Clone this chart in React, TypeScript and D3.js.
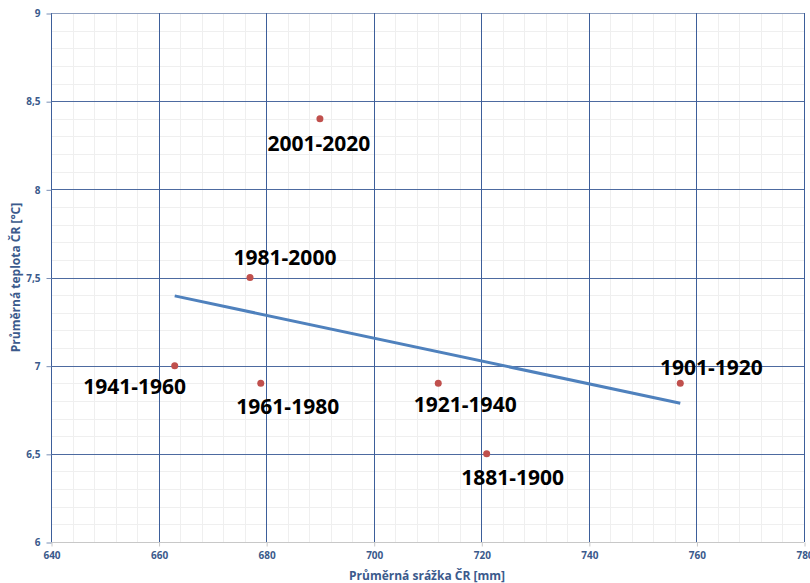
import * as d3 from 'd3';
import { useEffect, useRef } from 'react';

// periods, precipitation [mm], temperature [°C]
const periods = ['1881-1900', '1901-1920', '1921-1940', '1941-1960', '1961-1980', '1981-2000', '2001-2020'];
const srazka = [721, 757, 712, 663, 679, 677, 690];
const teplota = [6.5, 6.9, 6.9, 7.0, 6.9, 7.5, 8.4];

const xTicks = [640, 660, 680, 700, 720, 740, 760, 780];
const yTicks = [6, 6.5, 7, 7.5, 8, 8.5, 9];

// label placement relative to the point (px)
const labelDx = [26, 31, 27, -40, 27, 35, -1];
const labelDy = [31, -8, 29, 28, 31, -13, 32];

export default function App() {
    const ref = useRef<HTMLDivElement>(null);

    useEffect(() => {
        const width = 810;
        const height = 583;
        const margin = { top: 13, right: 6, bottom: 41, left: 51 };
        const axisColor = '#3b5a8c';

        const svg = d3.create('svg')
            .attr('width', width)
            .attr('height', height)
            .style('display', 'block')
            .style('background', '#fff');

        const x = d3.scaleLinear().domain([640, 780]).range([margin.left, width - margin.right]);
        const y = d3.scaleLinear().domain([6, 9]).range([height - margin.bottom, margin.top]);

        // minor grid
        const minorX = d3.range(640, 781, 4).filter(v => v % 20 !== 0);
        const minorY = d3.range(60, 91, 1).map(v => v / 10).filter(v => Math.round(v * 10) % 5 !== 0);
        svg.append('g')
            .selectAll('line')
            .data(minorX)
            .join('line')
            .attr('x1', d => Math.round(x(d)) + 0.5).attr('x2', d => Math.round(x(d)) + 0.5)
            .attr('y1', y(6)).attr('y2', y(9))
            .attr('stroke', '#efefef');
        svg.append('g')
            .selectAll('line')
            .data(minorY)
            .join('line')
            .attr('x1', x(640)).attr('x2', x(780))
            .attr('y1', d => Math.round(y(d)) + 0.5).attr('y2', d => Math.round(y(d)) + 0.5)
            .attr('stroke', '#efefef');

        // major grid
        svg.append('g')
            .selectAll('line')
            .data(yTicks.slice(1))
            .join('line')
            .attr('x1', x(640)).attr('x2', x(780))
            .attr('y1', d => Math.round(y(d)) + 0.5).attr('y2', d => Math.round(y(d)) + 0.5)
            .attr('stroke', d => d === 9 ? '#8e9fbf' : '#4d6aa0');
        svg.append('g')
            .selectAll('line')
            .data(xTicks)
            .join('line')
            .attr('x1', d => Math.round(x(d)) + 0.5).attr('x2', d => Math.round(x(d)) + 0.5)
            .attr('y1', y(9)).attr('y2', y(6))
            .attr('stroke', '#3d5e9a');

        // bottom axis line
        svg.append('line')
            .attr('x1', x(640)).attr('x2', x(780))
            .attr('y1', Math.round(y(6)) + 0.5).attr('y2', Math.round(y(6)) + 0.5)
            .attr('stroke', '#c8c8c8');

        const xAxis = d3.axisBottom(x).tickValues(xTicks).tickSize(4).tickPadding(5).tickFormat(d3.format('d'));
        const gx = svg.append('g')
            .attr('transform', `translate(0.5,${Math.round(y(6)) + 0.5})`)
            .call(xAxis);
        gx.select('.domain').remove();
        gx.selectAll('line').attr('stroke', '#c8c8c8');

        const yAxis = d3.axisLeft(y).tickValues(yTicks).tickSize(5).tickPadding(6)
            .tickFormat(d => String(d).replace('.', ','));
        const gy = svg.append('g')
            .attr('transform', `translate(${Math.round(x(640)) + 0.5},0.5)`)
            .call(yAxis);
        gy.select('.domain').remove();
        gy.selectAll('line').attr('stroke', '#7a8fb5');

        svg.selectAll('.tick text')
            .attr('fill', axisColor)
            .attr('font-family', 'Open Sans, sans-serif')
            .attr('font-size', 10)
            .attr('font-weight', 700);

        // axis titles
        svg.append('text')
            .attr('x', 427)
            .attr('y', 580)
            .attr('text-anchor', 'middle')
            .attr('font-family', 'Open Sans, sans-serif')
            .attr('font-size', 12)
            .attr('font-weight', 700)
            .attr('fill', axisColor)
            .text('Průměrná srážka ČR [mm]');
        svg.append('text')
            .attr('transform', `translate(20,${(y(6) + y(9)) / 2}) rotate(-90)`)
            .attr('text-anchor', 'middle')
            .attr('font-family', 'Open Sans, sans-serif')
            .attr('font-size', 12)
            .attr('font-weight', 700)
            .attr('fill', axisColor)
            .text('Průměrná teplota ČR [°C]');

        // linear trend
        const xm = d3.mean(srazka) as number;
        const ym = d3.mean(teplota) as number;
        const sxy = d3.sum(srazka, (v, i) => (v - xm) * (teplota[i] - ym));
        const sxx = d3.sum(srazka, v => (v - xm) * (v - xm));
        const slope = sxy / sxx;
        const x0 = d3.min(srazka) as number;
        const x1 = d3.max(srazka) as number;
        const trend: [number, number][] = [[x0, ym + slope * (x0 - xm)], [x1, ym + slope * (x1 - xm)]];
        svg.append('path')
            .attr('d', d3.line<[number, number]>().x(d => x(d[0])).y(d => y(d[1]))(trend))
            .attr('fill', 'none')
            .attr('stroke', '#4f81bd')
            .attr('stroke-width', 3);

        const data = periods.map((p, i) => ({ p, sx: srazka[i], ty: teplota[i], dx: labelDx[i], dy: labelDy[i] }));

        svg.append('g')
            .selectAll('circle')
            .data(data)
            .join('circle')
            .attr('cx', d => x(d.sx))
            .attr('cy', d => y(d.ty))
            .attr('r', 3.5)
            .attr('fill', '#c0504d');

        svg.append('g')
            .selectAll('text')
            .data(data)
            .join('text')
            .attr('x', d => x(d.sx) + d.dx)
            .attr('y', d => y(d.ty) + d.dy)
            .attr('text-anchor', 'middle')
            .attr('font-family', 'Open Sans, sans-serif')
            .attr('font-size', 21)
            .attr('font-weight', 700)
            .attr('fill', '#000')
            .text(d => d.p);

        ref.current?.replaceChildren(svg.node() as SVGSVGElement);
    }, []);

    return <div ref={ref} style={{ position: 'absolute', left: 0, top: 0 }}></div>;
}
